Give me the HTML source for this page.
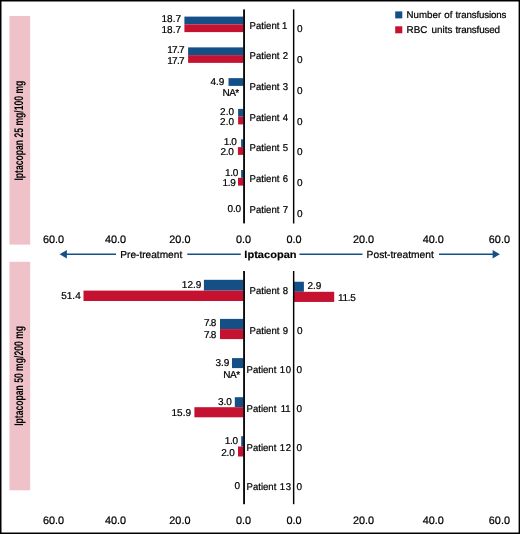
<!DOCTYPE html>
<html lang="en">
<head>
<meta charset="utf-8">
<title>Iptacopan transfusions pre- and post-treatment</title>
<style>
html, body { margin: 0; padding: 0; background: #fff; }
body { width: 520px; height: 534px; overflow: hidden; }
svg { display: block; font-family: 'Liberation Sans', Arial, Helvetica, sans-serif; }
svg text { fill: #000; stroke: #000; text-rendering: geometricPrecision; white-space: pre; }
</style>
</head>
<body>
<svg width="520" height="534" viewBox="0 0 520 534" role="img" aria-label="Bar chart of transfusions per patient before and after Iptacopan treatment">
<rect x="0.00" y="0.00" width="520.00" height="534.00" fill="#000"/>
<rect x="1.50" y="1.50" width="517.10" height="531.00" fill="#fff"/>
<rect x="9.45" y="16.00" width="20.75" height="228.60" fill="#EFC1C9"/>
<rect x="9.45" y="261.80" width="20.75" height="228.50" fill="#EFC1C9"/>
<text transform="translate(23.2 130.6) rotate(-90) scale(0.688 1)" font-size="12.5" text-anchor="middle" font-weight="bold" stroke-width="0">Iptacopan 25 mg/100 mg</text>
<text transform="translate(23.2 375.9) rotate(-90) scale(0.688 1)" font-size="12.5" text-anchor="middle" font-weight="bold" stroke-width="0">Iptacopan 50 mg/200 mg</text>
<rect x="184.40" y="16.60" width="59.05" height="7.75" fill="#145086"/>
<rect x="184.40" y="24.35" width="59.05" height="7.75" fill="#C51230"/>
<text x="161.54" y="22.10" font-size="10.0" stroke-width="0.22">18.7</text>
<text x="161.54" y="32.70" font-size="10.0" stroke-width="0.22">18.7</text>
<text transform="translate(249.60 28.50) scale(0.97 1)" font-size="9.9" stroke-width="0.22">Patient<tspan dx="0.00"> 1</tspan></text>
<text x="296.90" y="32.40" font-size="10.0" stroke-width="0.22">0</text>
<rect x="188.10" y="47.37" width="55.35" height="7.75" fill="#145086"/>
<rect x="188.10" y="55.12" width="55.35" height="7.75" fill="#C51230"/>
<text x="167.24" y="52.50" font-size="10.0" letter-spacing="-0.70" stroke-width="0.22">17.7</text>
<text x="167.24" y="64.10" font-size="10.0" letter-spacing="-0.70" stroke-width="0.22">17.7</text>
<text transform="translate(249.60 59.40) scale(0.97 1)" font-size="9.9" stroke-width="0.22">Patient<tspan dx="0.62"> 2</tspan></text>
<text x="296.90" y="63.20" font-size="10.0" stroke-width="0.22">0</text>
<rect x="228.50" y="78.14" width="14.95" height="7.75" fill="#145086"/>
<text x="210.40" y="85.00" font-size="10.0" stroke-width="0.22">4.9</text>
<text x="222.42" y="95.80" font-size="10.0" letter-spacing="-0.50" stroke-width="0.22">NA*</text>
<text transform="translate(249.60 90.10) scale(0.97 1)" font-size="9.9" stroke-width="0.22">Patient<tspan dx="0.62"> 3</tspan></text>
<text x="296.90" y="93.75" font-size="10.0" stroke-width="0.22">0</text>
<rect x="238.10" y="108.91" width="5.35" height="7.75" fill="#145086"/>
<rect x="238.10" y="116.66" width="5.35" height="7.75" fill="#C51230"/>
<text x="220.10" y="114.60" font-size="10.0" stroke-width="0.22">2.0</text>
<text x="220.10" y="125.00" font-size="10.0" stroke-width="0.22">2.0</text>
<text transform="translate(249.60 120.90) scale(0.97 1)" font-size="9.9" stroke-width="0.22">Patient<tspan dx="0.62"> 4</tspan></text>
<text x="296.90" y="124.60" font-size="10.0" stroke-width="0.22">0</text>
<rect x="241.10" y="139.30" width="2.35" height="7.80" fill="#145086"/>
<rect x="237.90" y="147.10" width="5.55" height="7.80" fill="#C51230"/>
<text x="223.80" y="144.65" font-size="10.0" letter-spacing="-0.40" stroke-width="0.22">1.0</text>
<text x="220.40" y="155.25" font-size="10.0" letter-spacing="-0.20" stroke-width="0.22">2.0</text>
<text transform="translate(249.60 150.70) scale(0.97 1)" font-size="9.9" stroke-width="0.22">Patient<tspan dx="0.62"> 5</tspan></text>
<text x="296.90" y="155.10" font-size="10.0" stroke-width="0.22">0</text>
<rect x="241.10" y="170.00" width="2.35" height="7.80" fill="#145086"/>
<rect x="238.00" y="177.80" width="5.45" height="7.80" fill="#C51230"/>
<text x="224.90" y="175.80" font-size="10.0" letter-spacing="-0.30" stroke-width="0.22">1.0</text>
<text x="222.50" y="185.60" font-size="10.0" letter-spacing="-0.30" stroke-width="0.22">1.9</text>
<text transform="translate(249.60 182.10) scale(0.97 1)" font-size="9.9" stroke-width="0.22">Patient<tspan dx="0.62"> 6</tspan></text>
<text x="296.90" y="185.70" font-size="10.0" stroke-width="0.22">0</text>
<text x="227.60" y="212.10" font-size="10.0" letter-spacing="-0.20" stroke-width="0.22">0.0</text>
<text transform="translate(249.60 213.20) scale(0.97 1)" font-size="9.9" stroke-width="0.22">Patient<tspan dx="0.62"> 7</tspan></text>
<text x="296.90" y="216.90" font-size="10.0" stroke-width="0.22">0</text>
<rect x="203.90" y="279.80" width="39.55" height="10.80" fill="#145086"/>
<rect x="83.50" y="290.60" width="159.95" height="10.40" fill="#C51230"/>
<rect x="293.65" y="281.75" width="10.25" height="10.05" fill="#145086"/>
<text x="307.40" y="289.45" font-size="10.0" stroke-width="0.22">2.9</text>
<rect x="293.65" y="291.80" width="40.55" height="10.15" fill="#C51230"/>
<text x="338.00" y="300.60" font-size="10.0" letter-spacing="-0.30" stroke-width="0.22">11.5</text>
<text x="181.84" y="288.20" font-size="10.0" stroke-width="0.22">12.9</text>
<text x="61.24" y="299.30" font-size="10.0" stroke-width="0.22">51.4</text>
<text transform="translate(249.60 294.40) scale(0.97 1)" font-size="9.9" stroke-width="0.22">Patient<tspan dx="0.62"> 8</tspan></text>
<rect x="220.00" y="318.90" width="23.45" height="10.20" fill="#145086"/>
<rect x="220.00" y="329.10" width="23.45" height="10.00" fill="#C51230"/>
<text x="204.00" y="326.30" font-size="10.0" letter-spacing="-0.75" stroke-width="0.22">7.8</text>
<text x="204.00" y="338.30" font-size="10.0" letter-spacing="-0.75" stroke-width="0.22">7.8</text>
<text transform="translate(249.60 333.70) scale(0.97 1)" font-size="9.9" stroke-width="0.22">Patient<tspan dx="0.62"> 9</tspan></text>
<text x="297.10" y="333.70" font-size="10.0" stroke-width="0.22">0</text>
<rect x="232.00" y="358.10" width="11.45" height="10.00" fill="#145086"/>
<text x="215.40" y="365.50" font-size="10.0" stroke-width="0.22">3.9</text>
<text x="223.32" y="377.50" font-size="10.0" letter-spacing="-0.50" stroke-width="0.22">NA*</text>
<text transform="translate(246.50 372.60) scale(0.97 1)" font-size="9.9" stroke-width="0.22">Patient<tspan dx="0.00" letter-spacing="0.7"> 10</tspan></text>
<text x="296.50" y="372.75" font-size="10.0" stroke-width="0.22">0</text>
<rect x="234.80" y="397.20" width="8.65" height="10.00" fill="#145086"/>
<rect x="194.40" y="407.20" width="49.05" height="10.10" fill="#C51230"/>
<text x="217.90" y="405.10" font-size="10.0" stroke-width="0.22">3.0</text>
<text x="171.54" y="416.10" font-size="10.0" stroke-width="0.22">15.9</text>
<text transform="translate(246.50 411.60) scale(0.97 1)" font-size="9.9" stroke-width="0.22">Patient<tspan dx="1.75"> 11</tspan></text>
<text x="296.50" y="411.70" font-size="10.0" stroke-width="0.22">0</text>
<rect x="241.20" y="436.20" width="2.25" height="10.30" fill="#145086"/>
<rect x="238.00" y="446.50" width="5.45" height="10.00" fill="#C51230"/>
<text x="224.80" y="443.50" font-size="10.0" letter-spacing="-0.30" stroke-width="0.22">1.0</text>
<text x="221.20" y="455.50" font-size="10.0" letter-spacing="-0.20" stroke-width="0.22">2.0</text>
<text transform="translate(246.50 450.80) scale(0.97 1)" font-size="9.9" stroke-width="0.22">Patient<tspan dx="0.00" letter-spacing="0.7"> 12</tspan></text>
<text x="296.40" y="450.80" font-size="10.0" stroke-width="0.22">0</text>
<text x="234.44" y="488.70" font-size="10.0" stroke-width="0.22">0</text>
<text transform="translate(246.50 489.65) scale(0.97 1)" font-size="9.9" stroke-width="0.22">Patient<tspan dx="0.00" letter-spacing="0.7"> 13</tspan></text>
<text x="296.40" y="489.65" font-size="10.0" stroke-width="0.22">0</text>
<rect x="243.15" y="9.40" width="1.80" height="214.00" fill="#000"/>
<rect x="292.92" y="9.40" width="1.45" height="214.10" fill="#000"/>
<rect x="243.15" y="271.00" width="1.80" height="233.20" fill="#000"/>
<rect x="292.92" y="271.00" width="1.45" height="233.20" fill="#000"/>
<text x="42.94" y="243.00" font-size="10.85" stroke-width="0.22">60.0</text>
<text x="104.94" y="243.00" font-size="10.85" stroke-width="0.22">40.0</text>
<text x="169.34" y="243.00" font-size="10.85" stroke-width="0.22">20.0</text>
<text x="235.96" y="243.00" font-size="10.85" stroke-width="0.22">0.0</text>
<text x="286.56" y="243.00" font-size="10.85" stroke-width="0.22">0.0</text>
<text x="353.04" y="243.00" font-size="10.85" stroke-width="0.22">20.0</text>
<text x="422.74" y="243.00" font-size="10.85" stroke-width="0.22">40.0</text>
<text x="488.84" y="243.00" font-size="10.85" stroke-width="0.22">60.0</text>
<text x="42.94" y="524.40" font-size="10.85" stroke-width="0.22">60.0</text>
<text x="104.94" y="524.40" font-size="10.85" stroke-width="0.22">40.0</text>
<text x="169.34" y="524.40" font-size="10.85" stroke-width="0.22">20.0</text>
<text x="235.96" y="524.40" font-size="10.85" stroke-width="0.22">0.0</text>
<text x="286.56" y="524.40" font-size="10.85" stroke-width="0.22">0.0</text>
<text x="353.04" y="524.40" font-size="10.85" stroke-width="0.22">20.0</text>
<text x="422.74" y="524.40" font-size="10.85" stroke-width="0.22">40.0</text>
<text x="488.84" y="524.40" font-size="10.85" stroke-width="0.22">60.0</text>
<text transform="translate(244.30 257.70) scale(1.075 1)" font-size="10.3" font-weight="bold" stroke-width="0.15">Iptacopan</text>
<text x="120.30" y="258.05" font-size="10.15" stroke-width="0.22">Pre-treatment</text>
<text x="366.60" y="258.05" font-size="10.25" stroke-width="0.22">Post-treatment</text>
<line x1="64" y1="254.2" x2="116.0" y2="254.2" stroke="#145086" stroke-width="1.5"/>
<line x1="187.3" y1="254.2" x2="240.8" y2="254.2" stroke="#145086" stroke-width="1.5"/>
<line x1="299.5" y1="254.2" x2="362.5" y2="254.2" stroke="#145086" stroke-width="1.5"/>
<line x1="439.0" y1="254.2" x2="495" y2="254.2" stroke="#145086" stroke-width="1.5"/>
<polygon points="59.6,254.2 66.9,249.89999999999998 66.9,258.5" fill="#145086"/>
<polygon points="499.9,254.2 492.6,249.89999999999998 492.6,258.5" fill="#145086"/>
<rect x="395.20" y="11.40" width="7.10" height="7.00" fill="#145086"/>
<rect x="395.20" y="26.30" width="7.10" height="7.00" fill="#C51230"/>
<text y="18.10" font-size="9.7" stroke-width="0.22"><tspan x="406.42" letter-spacing="0.048">Number </tspan><tspan x="444.21" letter-spacing="0.088">of </tspan><tspan x="455.55" letter-spacing="-0.136">transfusions</tspan></text>
<text y="32.90" font-size="9.9" stroke-width="0.22"><tspan x="406.41" letter-spacing="0.124">RBC </tspan><tspan x="431.46" letter-spacing="0.025">units </tspan><tspan x="455.55" letter-spacing="-0.182">transfused</tspan></text>
</svg>
</body>
</html>
